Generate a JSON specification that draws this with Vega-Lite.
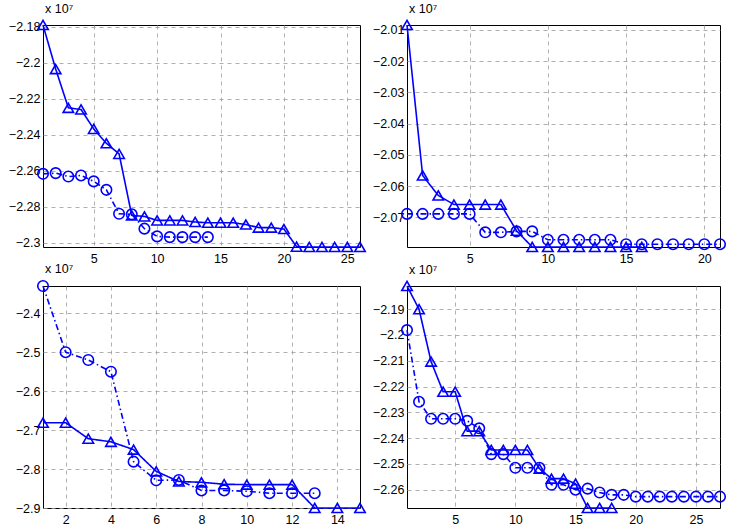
{
  "$schema": "https://vega.github.io/schema/vega-lite/v6.json",
  "background": "white",
  "padding": {"left": 7, "top": 2, "right": 5, "bottom": 2},
  "datasets": {
    "pts": [
      {"p":1,"s":"A","x":1,"y":-2.179},{"p":1,"s":"A","x":2,"y":-2.2035},{"p":1,"s":"A","x":3,"y":-2.2251},{"p":1,"s":"A","x":4,"y":-2.226},{"p":1,"s":"A","x":5,"y":-2.2368},{"p":1,"s":"A","x":6,"y":-2.2448},{"p":1,"s":"A","x":7,"y":-2.2507},{"p":1,"s":"A","x":8,"y":-2.2849},{"p":1,"s":"A","x":9,"y":-2.2855},{"p":1,"s":"A","x":10,"y":-2.2877},{"p":1,"s":"A","x":11,"y":-2.2877},{"p":1,"s":"A","x":12,"y":-2.2877},{"p":1,"s":"A","x":13,"y":-2.2886},{"p":1,"s":"A","x":14,"y":-2.289},{"p":1,"s":"A","x":15,"y":-2.289},{"p":1,"s":"A","x":16,"y":-2.289},{"p":1,"s":"A","x":17,"y":-2.29},{"p":1,"s":"A","x":18,"y":-2.2917},{"p":1,"s":"A","x":19,"y":-2.2917},{"p":1,"s":"A","x":20,"y":-2.2925},{"p":1,"s":"A","x":21,"y":-2.3023},{"p":1,"s":"A","x":22,"y":-2.3025},{"p":1,"s":"A","x":23,"y":-2.3025},{"p":1,"s":"A","x":24,"y":-2.3025},{"p":1,"s":"A","x":25,"y":-2.3025},{"p":1,"s":"A","x":26,"y":-2.3025},
      {"p":1,"s":"B","x":1,"y":-2.2618},{"p":1,"s":"B","x":2,"y":-2.2614},{"p":1,"s":"B","x":3,"y":-2.2633},{"p":1,"s":"B","x":4,"y":-2.2627},{"p":1,"s":"B","x":5,"y":-2.266},{"p":1,"s":"B","x":6,"y":-2.2707},{"p":1,"s":"B","x":7,"y":-2.284},{"p":1,"s":"B","x":8,"y":-2.2843},{"p":1,"s":"B","x":9,"y":-2.2923},{"p":1,"s":"B","x":10,"y":-2.2966},{"p":1,"s":"B","x":11,"y":-2.297},{"p":1,"s":"B","x":12,"y":-2.297},{"p":1,"s":"B","x":13,"y":-2.297},{"p":1,"s":"B","x":14,"y":-2.297},
      {"p":2,"s":"A","x":1,"y":-2.0084},{"p":2,"s":"A","x":2,"y":-2.0566},{"p":2,"s":"A","x":3,"y":-2.063},{"p":2,"s":"A","x":4,"y":-2.0659},{"p":2,"s":"A","x":5,"y":-2.0659},{"p":2,"s":"A","x":6,"y":-2.0659},{"p":2,"s":"A","x":7,"y":-2.0659},{"p":2,"s":"A","x":8,"y":-2.0743},{"p":2,"s":"A","x":9,"y":-2.0795},{"p":2,"s":"A","x":10,"y":-2.0795},{"p":2,"s":"A","x":11,"y":-2.0795},{"p":2,"s":"A","x":12,"y":-2.0795},{"p":2,"s":"A","x":13,"y":-2.0795},{"p":2,"s":"A","x":14,"y":-2.0795},{"p":2,"s":"A","x":15,"y":-2.0795},{"p":2,"s":"A","x":16,"y":-2.0795},
      {"p":2,"s":"B","x":1,"y":-2.0689},{"p":2,"s":"B","x":2,"y":-2.0689},{"p":2,"s":"B","x":3,"y":-2.0689},{"p":2,"s":"B","x":4,"y":-2.0689},{"p":2,"s":"B","x":5,"y":-2.0689},{"p":2,"s":"B","x":6,"y":-2.0748},{"p":2,"s":"B","x":7,"y":-2.0748},{"p":2,"s":"B","x":8,"y":-2.0745},{"p":2,"s":"B","x":9,"y":-2.0745},{"p":2,"s":"B","x":10,"y":-2.0772},{"p":2,"s":"B","x":11,"y":-2.0772},{"p":2,"s":"B","x":12,"y":-2.0772},{"p":2,"s":"B","x":13,"y":-2.0772},{"p":2,"s":"B","x":14,"y":-2.0772},{"p":2,"s":"B","x":15,"y":-2.0786},{"p":2,"s":"B","x":16,"y":-2.0786},{"p":2,"s":"B","x":17,"y":-2.0786},{"p":2,"s":"B","x":18,"y":-2.0786},{"p":2,"s":"B","x":19,"y":-2.0786},{"p":2,"s":"B","x":20,"y":-2.0786},{"p":2,"s":"B","x":21,"y":-2.0786},
      {"p":3,"s":"A","x":1,"y":-2.681},{"p":3,"s":"A","x":2,"y":-2.681},{"p":3,"s":"A","x":3,"y":-2.722},{"p":3,"s":"A","x":4,"y":-2.73},{"p":3,"s":"A","x":5,"y":-2.75},{"p":3,"s":"A","x":6,"y":-2.806},{"p":3,"s":"A","x":7,"y":-2.832},{"p":3,"s":"A","x":8,"y":-2.834},{"p":3,"s":"A","x":9,"y":-2.839},{"p":3,"s":"A","x":10,"y":-2.84},{"p":3,"s":"A","x":11,"y":-2.84},{"p":3,"s":"A","x":12,"y":-2.84},{"p":3,"s":"A","x":13,"y":-2.9},{"p":3,"s":"A","x":14,"y":-2.9},{"p":3,"s":"A","x":15,"y":-2.9},
      {"p":3,"s":"B","x":1,"y":-2.33},{"p":3,"s":"B","x":2,"y":-2.5},{"p":3,"s":"B","x":3,"y":-2.52},{"p":3,"s":"B","x":4,"y":-2.55},{"p":3,"s":"B","x":5,"y":-2.781},{"p":3,"s":"B","x":6,"y":-2.829},{"p":3,"s":"B","x":7,"y":-2.828},{"p":3,"s":"B","x":8,"y":-2.855},{"p":3,"s":"B","x":9,"y":-2.855},{"p":3,"s":"B","x":10,"y":-2.857},{"p":3,"s":"B","x":11,"y":-2.862},{"p":3,"s":"B","x":12,"y":-2.862},{"p":3,"s":"B","x":13,"y":-2.862},
      {"p":4,"s":"A","x":1,"y":-2.181},{"p":4,"s":"A","x":2,"y":-2.19},{"p":4,"s":"A","x":3,"y":-2.2103},{"p":4,"s":"A","x":4,"y":-2.222},{"p":4,"s":"A","x":5,"y":-2.222},{"p":4,"s":"A","x":6,"y":-2.2373},{"p":4,"s":"A","x":7,"y":-2.2373},{"p":4,"s":"A","x":8,"y":-2.2446},{"p":4,"s":"A","x":9,"y":-2.2446},{"p":4,"s":"A","x":10,"y":-2.2446},{"p":4,"s":"A","x":11,"y":-2.2446},{"p":4,"s":"A","x":12,"y":-2.2518},{"p":4,"s":"A","x":13,"y":-2.2557},{"p":4,"s":"A","x":14,"y":-2.2557},{"p":4,"s":"A","x":15,"y":-2.2577},{"p":4,"s":"A","x":16,"y":-2.2671},{"p":4,"s":"A","x":17,"y":-2.2671},{"p":4,"s":"A","x":18,"y":-2.2671},
      {"p":4,"s":"B","x":1,"y":-2.1981},{"p":4,"s":"B","x":2,"y":-2.2259},{"p":4,"s":"B","x":3,"y":-2.2325},{"p":4,"s":"B","x":4,"y":-2.2325},{"p":4,"s":"B","x":5,"y":-2.2325},{"p":4,"s":"B","x":6,"y":-2.2333},{"p":4,"s":"B","x":7,"y":-2.2362},{"p":4,"s":"B","x":8,"y":-2.2462},{"p":4,"s":"B","x":9,"y":-2.2462},{"p":4,"s":"B","x":10,"y":-2.2515},{"p":4,"s":"B","x":11,"y":-2.2515},{"p":4,"s":"B","x":12,"y":-2.2515},{"p":4,"s":"B","x":13,"y":-2.2581},{"p":4,"s":"B","x":14,"y":-2.2581},{"p":4,"s":"B","x":15,"y":-2.26},{"p":4,"s":"B","x":16,"y":-2.2596},{"p":4,"s":"B","x":17,"y":-2.2611},{"p":4,"s":"B","x":18,"y":-2.262},{"p":4,"s":"B","x":19,"y":-2.262},{"p":4,"s":"B","x":20,"y":-2.2627},{"p":4,"s":"B","x":21,"y":-2.2627},{"p":4,"s":"B","x":22,"y":-2.2627},{"p":4,"s":"B","x":23,"y":-2.2627},{"p":4,"s":"B","x":24,"y":-2.2627},{"p":4,"s":"B","x":25,"y":-2.2627},{"p":4,"s":"B","x":26,"y":-2.2627},{"p":4,"s":"B","x":27,"y":-2.2627}
    ]
  },
  "data": {"name": "pts"},
  "columns": 2,
  "bounds": "flush",
  "spacing": {"row": 39, "column": 47},
  "concat": [
    {
      "width": 317, "height": 222,
      "title": {"text": "x 10⁷"},
      "transform": [{"filter": "datum.p == 1"}],
      "encoding": {
        "x": {"field": "x", "type": "quantitative", "scale": {"domain": [1, 26], "nice": false, "zero": false}, "axis": {"values": [5, 10, 15, 20, 25], "title": null}},
        "y": {"field": "y", "type": "quantitative", "scale": {"domain": [-2.3025, -2.179], "nice": false, "zero": false}, "axis": {"values": [-2.3, -2.28, -2.26, -2.24, -2.22, -2.2, -2.18], "title": null, "format": "~g"}}
      },
      "layer": [
        {"mark": {"type": "line", "color": "#0000ff", "strokeWidth": 1.6}, "encoding": {"strokeDash": {"field": "s", "type": "nominal", "scale": {"domain": ["A", "B"], "range": [[1, 0], [6, 3, 1.5, 3]]}, "legend": null}}},
        {"mark": {"type": "point", "filled": false, "color": "#0000ff", "size": 110, "strokeWidth": 1.6, "opacity": 1}, "encoding": {"shape": {"field": "s", "type": "nominal", "scale": {"domain": ["A", "B"], "range": ["triangle-up", "circle"]}, "legend": null}}}
      ]
    },
    {
      "width": 313, "height": 222,
      "title": {"text": "x 10⁷"},
      "transform": [{"filter": "datum.p == 2"}],
      "encoding": {
        "x": {"field": "x", "type": "quantitative", "scale": {"domain": [1, 21], "nice": false, "zero": false}, "axis": {"values": [5, 10, 15, 20], "title": null}},
        "y": {"field": "y", "type": "quantitative", "scale": {"domain": [-2.0795, -2.0084], "nice": false, "zero": false}, "axis": {"values": [-2.07, -2.06, -2.05, -2.04, -2.03, -2.02, -2.01], "title": null, "format": "~g"}}
      },
      "layer": [
        {"mark": {"type": "line", "color": "#0000ff", "strokeWidth": 1.6}, "encoding": {"strokeDash": {"field": "s", "type": "nominal", "scale": {"domain": ["A", "B"], "range": [[1, 0], [6, 3, 1.5, 3]]}, "legend": null}}},
        {"mark": {"type": "point", "filled": false, "color": "#0000ff", "size": 110, "strokeWidth": 1.6, "opacity": 1}, "encoding": {"shape": {"field": "s", "type": "nominal", "scale": {"domain": ["A", "B"], "range": ["triangle-up", "circle"]}, "legend": null}}}
      ]
    },
    {
      "width": 317, "height": 222,
      "title": {"text": "x 10⁷"},
      "transform": [{"filter": "datum.p == 3"}],
      "encoding": {
        "x": {"field": "x", "type": "quantitative", "scale": {"domain": [1, 15], "nice": false, "zero": false}, "axis": {"values": [2, 4, 6, 8, 10, 12, 14], "title": null}},
        "y": {"field": "y", "type": "quantitative", "scale": {"domain": [-2.9, -2.33], "nice": false, "zero": false}, "axis": {"values": [-2.9, -2.8, -2.7, -2.6, -2.5, -2.4], "title": null, "format": "~g"}}
      },
      "layer": [
        {"mark": {"type": "line", "color": "#0000ff", "strokeWidth": 1.6}, "encoding": {"strokeDash": {"field": "s", "type": "nominal", "scale": {"domain": ["A", "B"], "range": [[1, 0], [6, 3, 1.5, 3]]}, "legend": null}}},
        {"mark": {"type": "point", "filled": false, "color": "#0000ff", "size": 110, "strokeWidth": 1.6, "opacity": 1}, "encoding": {"shape": {"field": "s", "type": "nominal", "scale": {"domain": ["A", "B"], "range": ["triangle-up", "circle"]}, "legend": null}}}
      ]
    },
    {
      "width": 313, "height": 222,
      "title": {"text": "x 10⁷"},
      "transform": [{"filter": "datum.p == 4"}],
      "encoding": {
        "x": {"field": "x", "type": "quantitative", "scale": {"domain": [1, 27], "nice": false, "zero": false}, "axis": {"values": [5, 10, 15, 20, 25], "title": null}},
        "y": {"field": "y", "type": "quantitative", "scale": {"domain": [-2.2671, -2.181], "nice": false, "zero": false}, "axis": {"values": [-2.26, -2.25, -2.24, -2.23, -2.22, -2.21, -2.2, -2.19], "title": null, "format": "~g"}}
      },
      "layer": [
        {"mark": {"type": "line", "color": "#0000ff", "strokeWidth": 1.6}, "encoding": {"strokeDash": {"field": "s", "type": "nominal", "scale": {"domain": ["A", "B"], "range": [[1, 0], [6, 3, 1.5, 3]]}, "legend": null}}},
        {"mark": {"type": "point", "filled": false, "color": "#0000ff", "size": 110, "strokeWidth": 1.6, "opacity": 1}, "encoding": {"shape": {"field": "s", "type": "nominal", "scale": {"domain": ["A", "B"], "range": ["triangle-up", "circle"]}, "legend": null}}}
      ]
    }
  ],
  "config": {
    "font": "Liberation Sans",
    "view": {"stroke": "#000000", "strokeWidth": 1},
    "axis": {
      "grid": true, "gridDash": [4, 4], "gridColor": "#9a9a9a", "gridOpacity": 1, "gridWidth": 0.8,
      "domain": false, "ticks": false,
      "labelFont": "Liberation Sans", "labelFontSize": 12.5, "labelColor": "#000000"
    },
    "axisX": {"labelPadding": 5},
    "axisY": {"labelPadding": 3},
    "title": {"anchor": "start", "frame": "group", "fontSize": 12.5, "fontWeight": "normal", "font": "Liberation Sans", "color": "#000000", "offset": 2, "dx": 2}
  }
}
